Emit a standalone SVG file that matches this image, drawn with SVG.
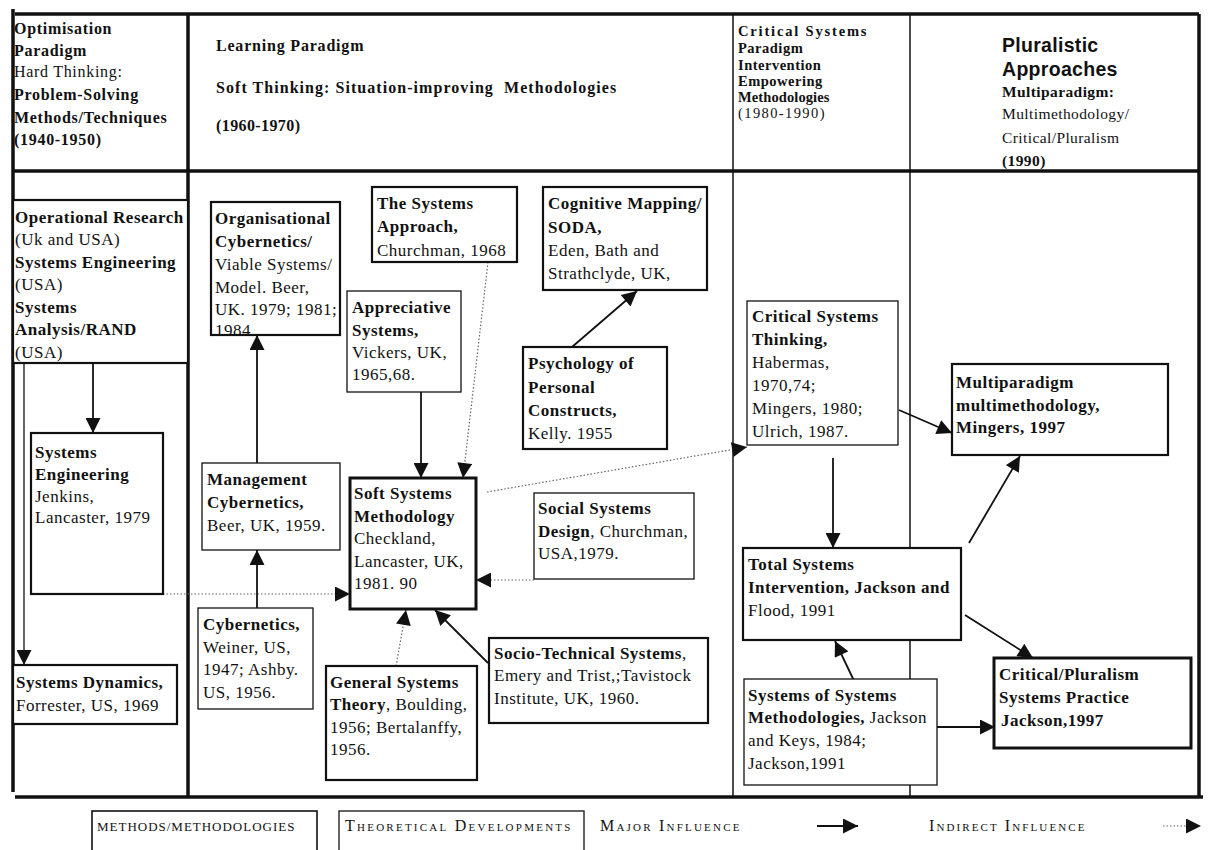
<svg xmlns="http://www.w3.org/2000/svg" width="1209" height="850" viewBox="0 0 1209 850">
  <style>
    text { font-family: "Liberation Serif", "Times New Roman", serif; font-size: 17px; letter-spacing: 0.5px; fill: #111; }
    .b { font-weight: bold; }
    .hd { font-size: 16px; letter-spacing: 0.7px; }
    .hl { font-size: 16px; letter-spacing: 0.8px; }
    .hc { font-size: 14.5px; letter-spacing: 0.5px; }
    .hp { font-size: 15.5px; letter-spacing: 0.4px; }
    .hs { font-family: "Liberation Sans", Arial, sans-serif; font-size: 19.5px; font-weight: bold; letter-spacing: 0.3px; }
    .frame { stroke: #111; fill: none; }
    .thick { stroke-width: 3.5; }
    .thin { stroke-width: 1.5; }
    .meth { fill: #fff; stroke: #111; stroke-width: 2.2; }
    .theo { fill: #fff; stroke: #111; stroke-width: 1.3; }
    .major { stroke: #111; stroke-width: 1.8; fill: none; }
    .indirect { stroke: #666; stroke-width: 1.2; stroke-dasharray: 1.5 2; fill: none; }
    .leg { font-variant: small-caps; letter-spacing: 0.6px; }
  </style>
  <defs>
    <marker id="ah" viewBox="0 0 10 10" refX="10" refY="5" markerWidth="17" markerHeight="15" markerUnits="userSpaceOnUse" orient="auto">
      <path d="M0,0 L10,5 L0,10 z" fill="#111"/>
    </marker>
  </defs>

  <rect width="1209" height="850" fill="#fff"/>

  <!-- table frame -->
  <g id="frame">
    <line class="frame thick" x1="13" y1="9" x2="13" y2="792"/>
    <line class="frame thick" x1="15" y1="14" x2="1199" y2="14"/>
    <line class="frame thick" x1="1199" y1="14" x2="1199" y2="797"/>
    <line class="frame thick" x1="13" y1="171" x2="1199" y2="171"/>
    <line class="frame thick" x1="15" y1="797" x2="1203" y2="797"/>
    <line class="frame thick" x1="188" y1="14" x2="188" y2="797"/>
    <line class="frame thin" x1="733" y1="14" x2="733" y2="797"/>
    <line class="frame thin" x1="910" y1="14" x2="910" y2="797"/>
    <line class="frame thin" x1="13" y1="200" x2="188" y2="200"/>
  </g>

  <!-- column headings -->
  <g id="head-optimisation">
    <text class="hd b" x="14" y="34">Optimisation</text>
    <text class="hd b" x="14" y="56">Paradigm</text>
    <text class="hd" x="14" y="77">Hard Thinking:</text>
    <text class="hd b" x="14" y="100">Problem-Solving</text>
    <text class="hd b" x="14" y="123">Methods/Techniques</text>
    <text class="hd b" x="14" y="145">(1940-1950)</text>
  </g>
  <g id="head-learning">
    <text class="hl b" x="216" y="51">Learning Paradigm</text>
    <text class="hl b" x="216" y="93" textLength="401" lengthAdjust="spacing">Soft Thinking: Situation-improving&#160; Methodologies</text>
    <text class="hd b" x="216" y="131" style="letter-spacing:0.4px">(1960-1970)</text>
  </g>
  <g id="head-critical">
    <text class="hc b" x="738" y="36" textLength="129" lengthAdjust="spacing">Critical Systems</text>
    <text class="hc b" x="738" y="53">Paradigm</text>
    <text class="hc b" x="738" y="70">Intervention</text>
    <text class="hc b" x="738" y="86">Empowering</text>
    <text class="hc b" x="738" y="102" style="letter-spacing:0.1px">Methodologies</text>
    <text class="hc" x="738" y="118" textLength="87" lengthAdjust="spacing">(1980-1990)</text>
  </g>
  <g id="head-pluralistic">
    <text class="hs" x="1002" y="52">Pluralistic</text>
    <text class="hs" x="1002" y="76">Approaches</text>
    <text class="hp b" x="1002" y="97">Multiparadigm:</text>
    <text class="hp" x="1002" y="119">Multimethodology/</text>
    <text class="hp" x="1002" y="143">Critical/Pluralism</text>
    <text class="hp b" x="1002" y="166">(1990)</text>
  </g>

  <!-- connectors -->
  <g id="connectors">
    <line class="major" x1="93" y1="363" x2="93" y2="433" marker-end="url(#ah)"/>
    <line class="major" x1="24" y1="363" x2="24" y2="665" marker-end="url(#ah)" style="stroke-width:1.3"/>
    <line class="indirect" x1="163" y1="594" x2="350" y2="594" marker-end="url(#ah)"/>
    <line class="major" x1="257" y1="608" x2="257" y2="550" marker-end="url(#ah)"/>
    <line class="major" x1="257" y1="463" x2="257" y2="335" marker-end="url(#ah)"/>
    <line class="major" x1="421" y1="392" x2="421" y2="478" marker-end="url(#ah)"/>
    <line class="indirect" x1="488" y1="262" x2="463" y2="478" marker-end="url(#ah)"/>
    <line class="major" x1="572" y1="347" x2="637" y2="291" marker-end="url(#ah)"/>
    <line class="indirect" x1="487" y1="492" x2="747" y2="447" marker-end="url(#ah)"/>
    <line class="indirect" x1="534" y1="580" x2="476" y2="580" marker-end="url(#ah)"/>
    <line class="major" x1="488" y1="663" x2="435" y2="610" marker-end="url(#ah)"/>
    <line class="indirect" x1="396" y1="666" x2="406" y2="610" marker-end="url(#ah)"/>
    <line class="major" x1="833" y1="458" x2="833" y2="548" marker-end="url(#ah)"/>
    <line class="major" x1="899" y1="410" x2="952" y2="433" marker-end="url(#ah)"/>
    <line class="major" x1="969" y1="543" x2="1020" y2="456" marker-end="url(#ah)"/>
    <line class="major" x1="965" y1="615" x2="1033" y2="658" marker-end="url(#ah)"/>
    <line class="major" x1="857" y1="687" x2="835" y2="641" marker-end="url(#ah)"/>
    <line class="major" x1="937" y1="727" x2="995" y2="727" marker-end="url(#ah)"/>
  </g>

  <!-- nodes -->
  <g id="operational-research">
    <rect class="meth" x="13" y="200" width="175" height="163"/>
    <text class="b" x="15" y="223">Operational Research</text>
    <text x="15" y="245">(Uk and USA)</text>
    <text class="b" x="15" y="268">Systems Engineering</text>
    <text x="15" y="290">(USA)</text>
    <text class="b" x="15" y="313">Systems</text>
    <text class="b" x="15" y="335">Analysis/RAND</text>
    <text x="15" y="358">(USA)</text>
  </g>
  <g id="systems-engineering">
    <rect class="meth" x="31" y="433" width="132" height="161"/>
    <text class="b" x="35" y="458">Systems</text>
    <text class="b" x="35" y="480">Engineering</text>
    <text x="35" y="502">Jenkins,</text>
    <text x="35" y="523">Lancaster, 1979</text>
  </g>
  <g id="systems-dynamics">
    <rect class="meth" x="13" y="665" width="164" height="59"/>
    <text class="b" x="16" y="688">Systems Dynamics,</text>
    <text x="16" y="711">Forrester, US, 1969</text>
  </g>
  <g id="organisational-cybernetics">
    <rect class="meth" x="211" y="202" width="129" height="133"/>
    <text class="b" x="215" y="224">Organisational</text>
    <text class="b" x="215" y="247">Cybernetics/</text>
    <text x="215" y="270">Viable Systems/</text>
    <text x="215" y="293">Model. Beer,</text>
    <text x="215" y="315">UK. 1979; 1981;</text>
    <text x="215" y="336">1984</text>
  </g>
  <g id="systems-approach">
    <rect class="meth" x="372" y="187" width="145" height="75"/>
    <text class="b" x="377" y="209">The Systems</text>
    <text class="b" x="377" y="232">Approach,</text>
    <text x="377" y="256">Churchman, 1968</text>
  </g>
  <g id="appreciative-systems">
    <rect class="theo" x="347" y="291" width="114" height="101"/>
    <text class="b" x="352" y="313">Appreciative</text>
    <text class="b" x="352" y="336">Systems,</text>
    <text x="352" y="358">Vickers, UK,</text>
    <text x="352" y="380">1965,68.</text>
  </g>
  <g id="cognitive-mapping">
    <rect class="meth" x="543" y="187" width="164" height="103"/>
    <text class="b" x="548" y="209">Cognitive Mapping/</text>
    <text class="b" x="548" y="233">SODA,</text>
    <text x="548" y="256">Eden, Bath and</text>
    <text x="548" y="279">Strathclyde, UK,</text>
  </g>
  <g id="personal-constructs">
    <rect class="meth" x="523" y="347" width="144" height="102"/>
    <text class="b" x="528" y="369">Psychology of</text>
    <text class="b" x="528" y="393">Personal</text>
    <text class="b" x="528" y="416">Constructs,</text>
    <text x="528" y="439">Kelly. 1955</text>
  </g>
  <g id="management-cybernetics">
    <rect class="theo" x="202" y="463" width="138" height="87"/>
    <text class="b" x="207" y="485">Management</text>
    <text class="b" x="207" y="508">Cybernetics,</text>
    <text x="207" y="531">Beer, UK, 1959.</text>
  </g>
  <g id="cybernetics">
    <rect class="theo" x="198" y="608" width="115" height="101"/>
    <text class="b" x="203" y="630">Cybernetics,</text>
    <text x="203" y="653">Weiner, US,</text>
    <text x="203" y="675">1947; Ashby.</text>
    <text x="203" y="698">US, 1956.</text>
  </g>
  <g id="soft-systems-methodology">
    <rect class="meth" x="350" y="478" width="126" height="131" style="stroke-width:3"/>
    <text class="b" x="354" y="499">Soft Systems</text>
    <text class="b" x="354" y="522">Methodology</text>
    <text x="354" y="544">Checkland,</text>
    <text x="354" y="567">Lancaster, UK,</text>
    <text x="354" y="589">1981. 90</text>
  </g>
  <g id="social-systems-design">
    <rect class="theo" x="534" y="493" width="160" height="86"/>
    <text class="b" x="538" y="514">Social Systems</text>
    <text x="538" y="537"><tspan class="b">Design</tspan>, Churchman,</text>
    <text x="538" y="559">USA,1979.</text>
  </g>
  <g id="socio-technical-systems">
    <rect class="meth" x="489" y="638" width="219" height="85"/>
    <text x="494" y="659"><tspan class="b">Socio-Technical Systems</tspan>,</text>
    <text x="494" y="681">Emery and Trist,;Tavistock</text>
    <text x="494" y="704">Institute, UK, 1960.</text>
  </g>
  <g id="general-systems-theory">
    <rect class="meth" x="326" y="666" width="151" height="114"/>
    <text class="b" x="330" y="688">General Systems</text>
    <text x="330" y="710"><tspan class="b">Theory</tspan>, Boulding,</text>
    <text x="330" y="733">1956; Bertalanffy,</text>
    <text x="330" y="755">1956.</text>
  </g>
  <g id="critical-systems-thinking">
    <rect class="theo" x="747" y="301" width="151" height="144"/>
    <text class="b" x="752" y="322">Critical Systems</text>
    <text class="b" x="752" y="345">Thinking,</text>
    <text x="752" y="368">Habermas,</text>
    <text x="752" y="391">1970,74;</text>
    <text x="752" y="414">Mingers, 1980;</text>
    <text x="752" y="437">Ulrich, 1987.</text>
  </g>
  <g id="multiparadigm-multimethodology">
    <rect class="meth" x="952" y="364" width="216" height="91"/>
    <text class="b" x="956" y="388">Multiparadigm</text>
    <text class="b" x="956" y="411">multimethodology,</text>
    <text class="b" x="956" y="433">Mingers, 1997</text>
  </g>
  <g id="total-systems-intervention">
    <rect class="meth" x="743" y="548" width="218" height="92"/>
    <text class="b" x="748" y="570">Total Systems</text>
    <text class="b" x="748" y="593">Intervention, Jackson and</text>
    <text x="748" y="616">Flood, 1991</text>
  </g>
  <g id="system-of-systems-methodologies">
    <rect class="theo" x="744" y="679" width="193" height="106"/>
    <text class="b" x="748" y="701">Systems of Systems</text>
    <text x="748" y="723"><tspan class="b">Methodologies,</tspan> Jackson</text>
    <text x="748" y="746">and Keys, 1984;</text>
    <text x="748" y="769">Jackson,1991</text>
  </g>
  <g id="critical-pluralism">
    <rect class="meth" x="994" y="658" width="197" height="90" style="stroke-width:3"/>
    <text class="b" x="999" y="680">Critical/Pluralism</text>
    <text class="b" x="999" y="703">Systems Practice</text>
    <text class="b" x="1001" y="726">Jackson,1997</text>
  </g>

  <!-- key -->
  <g id="legend">
    <rect class="meth" x="92" y="811" width="225" height="50" style="stroke-width:1.6"/>
    <text class="leg" x="97" y="831" style="font-size:13px" textLength="198" lengthAdjust="spacing">METHODS/METHODOLOGIES</text>
    <rect class="theo" x="339" y="811" width="245" height="50"/>
    <text class="leg" x="345" y="831" style="font-size:16px" textLength="226" lengthAdjust="spacing">Theoretical Developments</text>
    <text class="leg" x="600" y="831" style="font-size:16px" textLength="140" lengthAdjust="spacing">Major Influence</text>
    <line class="major" x1="817" y1="826" x2="858" y2="826" marker-end="url(#ah)"/>
    <text class="leg" x="929" y="831" style="font-size:16px" textLength="156" lengthAdjust="spacing">Indirect Influence</text>
    <line class="indirect" x1="1163" y1="826" x2="1201" y2="826" marker-end="url(#ah)"/>
  </g>
</svg>
